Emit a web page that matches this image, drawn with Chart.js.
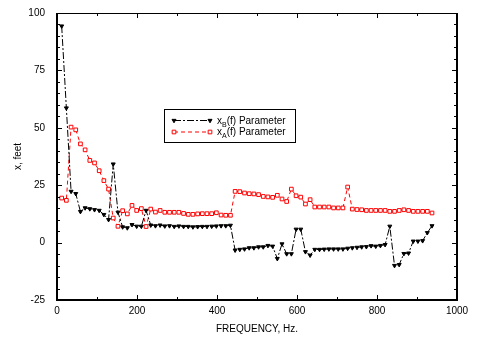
<!DOCTYPE html>
<html>
<head>
<meta charset="utf-8">
<script src="https://cdn.jsdelivr.net/npm/chart.js@4.4.1/dist/chart.umd.min.js"></script>
<style>
  html, body { margin: 0; padding: 0; background: #fff; }
  #wrap { width: 477px; height: 337px; }
</style>
</head>
<body>
<div id="wrap"><canvas id="c" width="477" height="337"></canvas></div>
<script>
// frequencies (Hz) of the measured points
const freq = [11.7, 23.4, 35.2, 46.9, 58.6, 70.3, 82.0, 93.8, 105.5, 117.2,
  128.9, 140.6, 152.4, 164.1, 175.8, 187.5, 199.2, 210.9, 222.7, 234.4,
  246.1, 257.8, 269.5, 281.3, 293.0, 304.7, 316.4, 328.1, 339.8, 351.6,
  363.3, 375.0, 386.7, 398.4, 410.2, 421.9, 433.6, 445.3, 457.0, 468.8,
  480.5, 492.2, 503.9, 515.6, 527.3, 539.1, 550.8, 562.5, 574.2, 585.9,
  597.7, 609.4, 621.1, 632.8, 644.5, 656.3, 668.0, 679.7, 691.4, 703.1,
  714.8, 726.6, 738.3, 750.0, 761.7, 773.4, 785.2, 796.9, 808.6, 820.3,
  832.0, 843.8, 855.5, 867.2, 878.9, 890.6, 902.3, 914.1, 925.8, 937.5];

// xB(f) parameter, feet
const xB = [94.3, 58.6, 22.3, 21.3, 13.5, 15.1, 14.7, 14.3, 14.0, 12.2,
  10.0, 34.2, 13.2, 6.8, 6.4, 7.8, 7.1, 7.1, 14.0, 7.6,
  7.3, 7.6, 7.2, 7.3, 7.0, 7.2, 7.0, 7.0, 6.8, 6.9,
  7.0, 7.0, 7.1, 7.2, 7.3, 7.3, 7.5, -3.3, -3.0, -2.8,
  -2.3, -2.3, -1.9, -1.9, -1.3, -1.6, -7.0, -0.6, -4.9, -4.9,
  5.8, 5.8, -4.0, -5.5, -3.0, -3.0, -2.9, -2.8, -2.8, -2.8,
  -2.8, -2.5, -2.3, -2.1, -1.9, -1.8, -1.4, -1.6, -1.3, -0.9,
  7.1, -10.0, -9.6, -4.8, -4.6, 0.6, 0.6, 0.8, 4.3, 7.3];

// xA(f) parameter, feet
const xA = [19.4, 18.4, 50.3, 49.1, 43.0, 40.4, 35.8, 34.7, 31.3, 27.0,
  23.3, 10.7, 7.1, 13.9, 12.5, 16.2, 14.0, 14.8, 7.0, 14.6,
  13.3, 14.0, 13.2, 13.2, 13.2, 13.2, 12.7, 12.3, 12.3, 12.5,
  12.6, 12.6, 12.6, 13.0, 12.0, 11.9, 11.9, 22.3, 22.2, 21.6,
  21.3, 21.2, 20.9, 20.1, 19.9, 19.7, 20.6, 19.0, 17.9, 23.3,
  20.4, 19.8, 16.8, 18.7, 15.5, 15.5, 15.5, 15.5, 15.1, 15.1,
  15.1, 24.2, 14.6, 14.4, 14.3, 14.0, 14.0, 14.0, 14.0, 14.0,
  13.6, 13.6, 14.0, 14.3, 14.0, 13.6, 13.6, 13.6, 13.6, 12.9];

const xTicks = [0, 200, 400, 600, 800, 1000];
const yTicks = [-25, 0, 25, 50, 75, 100];

const FONT = 'Liberation Sans, Arial, Helvetica, sans-serif';
const blackDash = [7, 2, 2, 2];
const redDash = [4, 3];

const toXY = (ys) => ys.map((y, i) => ({ x: freq[i], y }));

// inward tick marks and the box around the plot
const frameTicks = {
  id: 'frameTicks',
  afterDraw(chart) {
    const { ctx, chartArea: a, scales: { x, y } } = chart;
    ctx.save();
    ctx.strokeStyle = '#000';
    ctx.lineWidth = 1;
    ctx.beginPath();
    for (let v = 0; v <= 1000; v += 100) {
      const px = Math.round(x.getPixelForValue(v)) + 0.5;
      const len = v % 200 === 0 ? 5 : 3;
      ctx.moveTo(px, a.bottom); ctx.lineTo(px, a.bottom - len);
      ctx.moveTo(px, a.top); ctx.lineTo(px, a.top + len);
    }
    for (let v = -25; v <= 100; v += 5) {
      const py = Math.round(y.getPixelForValue(v)) + 0.5;
      const len = v % 25 === 0 ? 5 : 3;
      ctx.moveTo(a.left, py); ctx.lineTo(a.left + len, py);
      ctx.moveTo(a.right, py); ctx.lineTo(a.right - len, py);
    }
    ctx.stroke();

    ctx.lineWidth = 2;
    ctx.beginPath();
    ctx.moveTo(a.left, a.top); ctx.lineTo(a.left, a.bottom);
    ctx.lineTo(a.right, a.bottom); ctx.lineTo(a.right, a.top);
    ctx.stroke();
    ctx.lineWidth = 1;
    ctx.beginPath();
    ctx.moveTo(a.left, a.top + 0.5); ctx.lineTo(a.right, a.top + 0.5);
    ctx.stroke();
    ctx.restore();
  }
};

// legend box with subscripts
const boxLegend = {
  id: 'boxLegend',
  afterDraw(chart) {
    const ctx = chart.ctx;
    const bx = 164.5, by = 109.5, bw = 131, bh = 33;
    ctx.save();
    ctx.fillStyle = '#fff';
    ctx.fillRect(bx, by, bw, bh);
    ctx.strokeStyle = '#000';
    ctx.lineWidth = 1;
    ctx.strokeRect(bx, by, bw, bh);

    const rows = [
      { y: 120.5, color: '#000', dash: blackDash, style: 'triangle', rot: 180, r: 2.3, fill: '#000', sub: 'B' },
      { y: 132, color: '#ff0000', dash: redDash, style: 'rect', rot: 0, r: 2.6, fill: '#fff', sub: 'A' }
    ];
    rows.forEach(row => {
      ctx.strokeStyle = row.color;
      ctx.lineWidth = 1;
      ctx.setLineDash(row.dash);
      ctx.beginPath();
      ctx.moveTo(174, row.y); ctx.lineTo(210, row.y);
      ctx.stroke();
      ctx.setLineDash([]);
      [174, 210].forEach(px => {
        ctx.fillStyle = row.fill;
        Chart.helpers.drawPoint(ctx, { pointStyle: row.style, rotation: row.rot, radius: row.r, borderWidth: 1 }, px, row.y);
      });
      ctx.fillStyle = '#000';
      ctx.textBaseline = 'alphabetic';
      ctx.font = '10px ' + FONT;
      let tx = 217;
      ctx.fillText('x', tx, row.y + 3);
      tx += ctx.measureText('x').width;
      ctx.font = '7px ' + FONT;
      ctx.fillText(row.sub, tx, row.y + 6);
      tx += ctx.measureText(row.sub).width;
      ctx.font = '10px ' + FONT;
      ctx.fillText('(f) Parameter', tx, row.y + 3);
    });
    ctx.restore();
  }
};

new Chart(document.getElementById('c'), {
  type: 'scatter',
  data: {
    datasets: [
      {
        label: 'xB(f) Parameter',
        data: toXY(xB),
        showLine: true,
        borderColor: '#000',
        borderWidth: 1,
        borderDash: blackDash,
        pointStyle: 'triangle',
        rotation: 180,
        pointRadius: 2.3,
        pointBackgroundColor: '#000',
        pointBorderColor: '#000',
        pointBorderWidth: 1
      },
      {
        label: 'xA(f) Parameter',
        data: toXY(xA),
        showLine: true,
        borderColor: '#ff0000',
        borderWidth: 1,
        borderDash: redDash,
        pointStyle: 'rect',
        pointRadius: 2.6,
        pointBackgroundColor: '#fff',
        pointBorderColor: '#ff0000',
        pointBorderWidth: 1
      }
    ]
  },
  options: {
    responsive: false,
    animation: false,
    layout: { padding: { left: 0, top: 13, right: 20, bottom: 0 } },
    plugins: { legend: { display: false }, tooltip: { enabled: false } },
    scales: {
      x: {
        type: 'linear',
        min: 0, max: 1000,
        afterBuildTicks: (s) => { s.ticks = xTicks.map(v => ({ value: v })); },
        afterFit: (s) => { s.height = 37; },
        grid: { display: false },
        border: { display: false },
        ticks: { color: '#000', font: { family: FONT, size: 10 }, padding: -3, maxRotation: 0, callback: (v) => String(v) },
        title: { display: true, text: 'FREQUENCY, Hz.', color: '#000', font: { family: FONT, size: 10 }, padding: { top: 0, bottom: 2 } }
      },
      y: {
        min: -25, max: 100,
        afterBuildTicks: (s) => { s.ticks = yTicks.map(v => ({ value: v })); },
        afterFit: (s) => { s.width = 57; },
        grid: { display: false },
        border: { display: false },
        ticks: { color: '#000', font: { family: FONT, size: 10 }, padding: 4, callback: (v) => String(v) },
        title: { display: true, text: 'x, feet', color: '#000', font: { family: FONT, size: 10 }, padding: { top: 12, bottom: 0 } }
      }
    }
  },
  plugins: [frameTicks, boxLegend]
});
</script>
</body>
</html>
